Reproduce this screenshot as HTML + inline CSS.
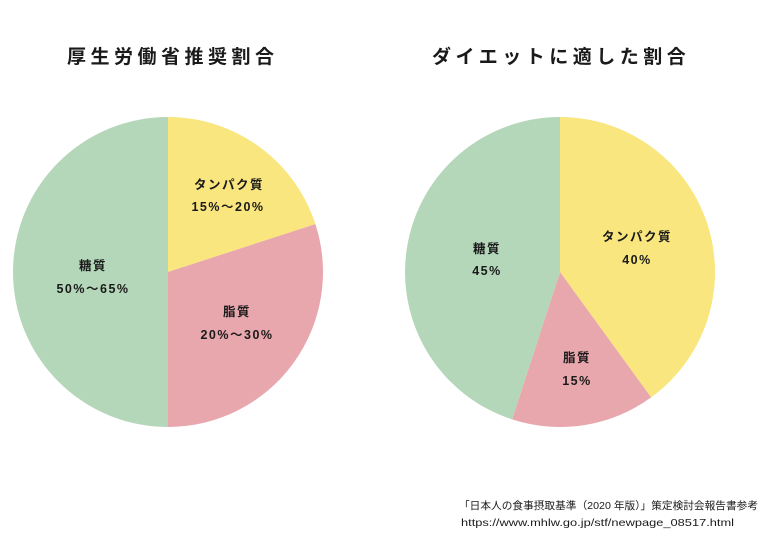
<!DOCTYPE html>
<html><head><meta charset="utf-8"><style>
html,body{margin:0;padding:0;background:#fff;}
svg{display:block;}
text{font-family:"Liberation Sans","Noto Sans CJK JP",sans-serif;fill:#1a1a1a;}
.t{font-size:19px;font-weight:bold;letter-spacing:4.5px;}
.l{font-size:12.5px;font-weight:bold;letter-spacing:1.5px;}
.f{font-size:10.5px;}
</style></head><body>
<svg width="762" height="538" viewBox="0 0 762 538">
<rect width="762" height="538" fill="#fff"/>
<text class="t" x="67" y="63">厚生労働省推奨割合</text>
<text class="t" x="432" y="63">ダイエットに適した割合</text>
<!-- left pie c(168,272) r155 -->
<path d="M168,272 L168,117 A155,155 0 0 1 315.4,224.1 Z" fill="#f9e67e"/>
<path d="M168,272 L315.4,224.1 A155,155 0 0 1 168,427 Z" fill="#e8a6ad"/>
<path d="M168,272 L168,427 A155,155 0 0 1 168,117 Z" fill="#b5d7b9"/>
<!-- right pie c(560,272) -->
<path d="M560,272 L560,117 A155,155 0 0 1 651.1,397.4 Z" fill="#f9e67e"/>
<path d="M560,272 L651.1,397.4 A155,155 0 0 1 512.1,419.4 Z" fill="#e8a6ad"/>
<path d="M560,272 L512.1,419.4 A155,155 0 0 1 560,117 Z" fill="#b5d7b9"/>
<g class="l" text-anchor="middle">
<text x="229" y="189">タンパク質</text>
<text x="228" y="211">15%〜20%</text>
<text x="93" y="270">糖質</text>
<text x="93" y="293">50%〜65%</text>
<text x="237" y="316">脂質</text>
<text x="237" y="339">20%〜30%</text>
<text x="637" y="241">タンパク質</text>
<text x="637" y="264">40%</text>
<text x="487" y="253">糖質</text>
<text x="487" y="275">45%</text>
<text x="577" y="362">脂質</text>
<text x="577" y="385">15%</text>
</g>
<text class="f" x="459" y="509" textLength="299" lengthAdjust="spacingAndGlyphs">「日本人の食事摂取基準（2020 年版）」策定検討会報告書参考</text>
<text class="f" x="461" y="526" textLength="273" lengthAdjust="spacingAndGlyphs">https://www.mhlw.go.jp/stf/newpage_08517.html</text>
</svg>
</body></html>
